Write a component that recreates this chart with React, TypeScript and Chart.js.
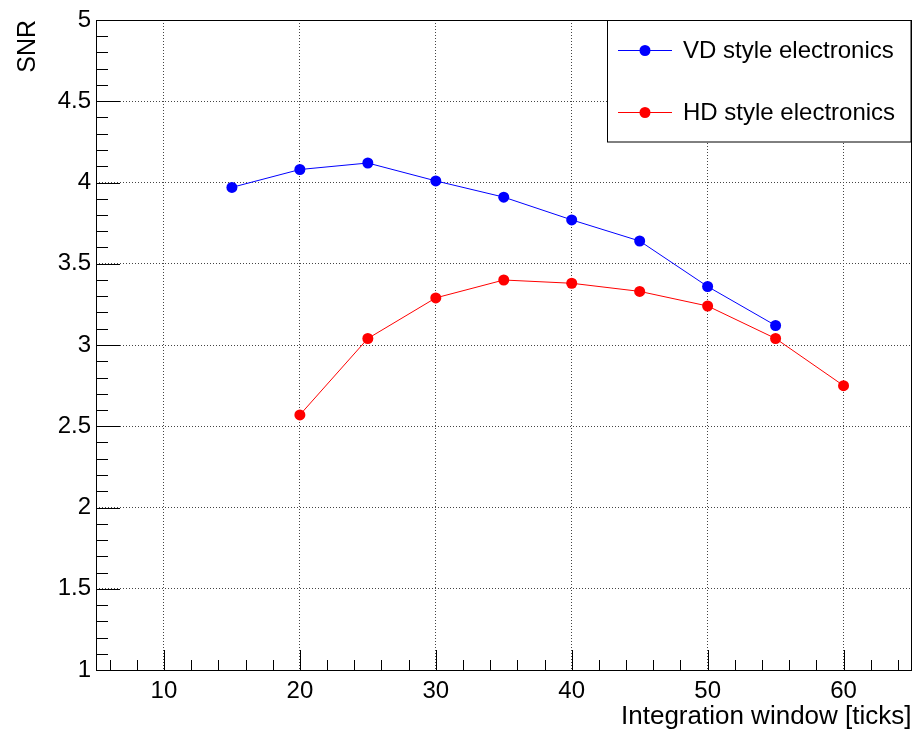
import { useEffect, useRef } from 'react';
import { Chart, registerables } from 'chart.js';

Chart.register(...registerables);

// Integration window (ticks) and signal-to-noise ratio for each electronics style
const windowVD = [15, 20, 25, 30, 35, 40, 45, 50, 55];
const snrVD = [3.97, 4.08, 4.12, 4.01, 3.91, 3.77, 3.64, 3.36, 3.12];
const windowHD = [20, 25, 30, 35, 40, 45, 50, 55, 60];
const snrHD = [2.57, 3.04, 3.29, 3.40, 3.38, 3.33, 3.24, 3.04, 2.75];

const seriesLabels = ['VD style electronics', 'HD style electronics'];
const seriesColors = ['#0000ff', '#ff0000'];

const xTicks = [10, 20, 30, 40, 50, 60];
const yTicks = [1, 1.5, 2, 2.5, 3, 3.5, 4, 4.5, 5];
const xRange = [5, 65];
const yRange = [1, 5];
const xTitle = 'Integration window [ticks]';
const yTitle = 'SNR';

const FONT = '"Liberation Sans", Arial, Helvetica, sans-serif';
const MARKER_R = 5.5;

// Frame, inward ticks, axis titles and the boxed legend drawn on top of the chart
const rootStylePlugin = {
  id: 'rootStyle',
  afterDraw(chart: any) {
    const { ctx, chartArea } = chart;
    const { left, right, top, bottom } = chartArea;
    const xs = chart.scales.x;
    const ys = chart.scales.y;
    ctx.save();

    // inward ticks on the x axis: major every 10, minor every 2
    ctx.strokeStyle = '#000';
    ctx.lineWidth = 1;
    ctx.beginPath();
    for (let v = xRange[0]; v <= xRange[1]; v += 1) {
      if (v % 2 !== 0) continue;
      const px = Math.round(xs.getPixelForValue(v)) + 0.5;
      const len = v % 10 === 0 ? 20 : 10;
      ctx.moveTo(px, bottom);
      ctx.lineTo(px, bottom - len);
    }
    // inward ticks on the y axis: major every 0.5, minor every 0.1
    for (let i = 0; i <= 40; i++) {
      const v = yRange[0] + i * 0.1;
      const py = Math.round(ys.getPixelForValue(v)) + 0.5;
      const len = i % 5 === 0 ? 24 : 12;
      ctx.moveTo(left, py);
      ctx.lineTo(left + len, py);
    }
    ctx.stroke();

    // frame
    ctx.strokeRect(Math.round(left) + 0.5, Math.round(top) + 0.5, Math.round(right - left) - 1, Math.round(bottom - top));

    // axis titles
    ctx.fillStyle = '#000';
    ctx.font = `26px ${FONT}`;
    ctx.textAlign = 'right';
    ctx.textBaseline = 'alphabetic';
    ctx.fillText(xTitle, right, 724);

    ctx.save();
    ctx.translate(35, top);
    ctx.rotate(-Math.PI / 2);
    ctx.font = `25px ${FONT}`;
    ctx.textAlign = 'right';
    ctx.fillText(yTitle, 0, 0);
    ctx.restore();

    // legend box
    const lx = 607.5, ly = top, lw = right - 607.5 - 0.5, lh = 121.5;
    ctx.fillStyle = '#fff';
    ctx.fillRect(lx, ly, lw, lh);
    ctx.strokeStyle = '#000';
    ctx.strokeRect(lx, ly + 0.5, lw, lh);
    const rows = [50, 112];
    chart.data.datasets.forEach((ds: any, i: number) => {
      const y = rows[i];
      ctx.strokeStyle = ds.borderColor;
      ctx.lineWidth = 1;
      ctx.beginPath();
      ctx.moveTo(618, y + 0.5);
      ctx.lineTo(672, y + 0.5);
      ctx.stroke();
      ctx.fillStyle = ds.backgroundColor;
      ctx.beginPath();
      ctx.arc(645, y + 0.5, MARKER_R, 0, Math.PI * 2);
      ctx.fill();
      ctx.fillStyle = '#000';
      ctx.font = `24px ${FONT}`;
      ctx.textAlign = 'left';
      ctx.textBaseline = 'middle';
      ctx.fillText(ds.label, 683, y + 1);
    });

    ctx.restore();
  },
};

export default function App() {
  const canvasRef = useRef<HTMLCanvasElement>(null);

  useEffect(() => {
    document.body.style.margin = '0';
    const canvas = canvasRef.current;
    if (!canvas) return;

    const makeSeries = (xs: number[], ys: number[], i: number) => ({
      label: seriesLabels[i],
      data: xs.map((x, k) => ({ x, y: ys[k] })),
      borderColor: seriesColors[i],
      backgroundColor: seriesColors[i],
      borderWidth: 1,
      pointRadius: MARKER_R,
      pointHoverRadius: MARKER_R,
      pointBorderWidth: 0,
      tension: 0,
      fill: false,
    });

    const tickFont = { family: FONT, size: 24 };

    const chart = new Chart(canvas, {
      type: 'line',
      data: {
        datasets: [makeSeries(windowVD, snrVD, 0), makeSeries(windowHD, snrHD, 1)],
      },
      options: {
        animation: false,
        responsive: false,
        devicePixelRatio: 1,
        events: [],
        layout: { padding: { top: 20, right: 4, left: 0, bottom: 0 } },
        plugins: { legend: { display: false }, tooltip: { enabled: false } },
        scales: {
          x: {
            type: 'linear',
            min: xRange[0],
            max: xRange[1],
            afterBuildTicks: (s: any) => { s.ticks = xTicks.map((value) => ({ value })); },
            afterFit: (s: any) => { s.height = 60; },
            grid: { color: '#444', lineWidth: 1, drawTicks: false },
            border: { display: false, dash: [1, 2] },
            ticks: {
              padding: 7,
              color: '#000',
              font: tickFont,
              maxRotation: 0,
              autoSkip: false,
              callback: (v: any) => `${v}`,
            },
          },
          y: {
            type: 'linear',
            min: yRange[0],
            max: yRange[1],
            afterBuildTicks: (s: any) => { s.ticks = yTicks.map((value) => ({ value })); },
            afterFit: (s: any) => { s.width = 96; },
            grid: { color: '#444', lineWidth: 1, drawTicks: false },
            border: { display: false, dash: [1, 2] },
            ticks: {
              padding: 5,
              color: '#000',
              font: tickFont,
              autoSkip: false,
              callback: (v: any) => `${v}`,
            },
          },
        },
      },
      plugins: [rootStylePlugin],
    } as any);

    return () => chart.destroy();
  }, []);

  return <canvas ref={canvasRef} width={917} height={730} style={{ display: 'block' }} />;
}
